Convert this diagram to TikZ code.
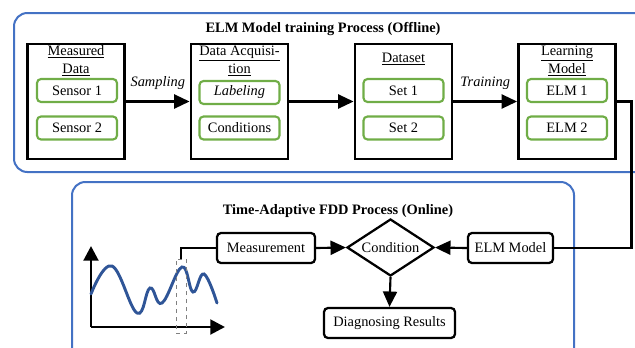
\documentclass[tikz,border=0pt]{standalone}
\usepackage{fontspec}
\setmainfont{Liberation Serif}
\usetikzlibrary{arrows.meta,shapes.geometric}

\definecolor{phaseblue}{HTML}{4472C4}
\definecolor{itemgreen}{HTML}{70AD47}
\definecolor{wavecol}{HTML}{2F5597}

\newcommand{\labelfont}{\fontsize{10.8}{12.5}\selectfont}

\tikzset{
  phase/.style={draw=phaseblue, line width=1.5pt, rounded corners=10pt},
  stagebox/.style={draw, line width=2.2pt, minimum width=72.75pt, minimum height=86.25pt, inner sep=0pt},
  itembox/.style={draw=itemgreen, line width=1.6pt, rounded corners=3pt, minimum width=60pt, minimum height=17.25pt, inner sep=0pt, font=\labelfont},
  stagetitle/.style={align=center, font=\labelfont, inner sep=0pt},
  procbox/.style={draw, line width=1.7pt, rounded corners=3pt, minimum height=22.5pt, inner sep=0pt, font=\labelfont},
  decision/.style={draw, diamond, aspect=1.5, line width=1.7pt, minimum width=65.25pt, minimum height=42.75pt, inner sep=0pt, font=\labelfont},
  flow/.style={line width=1.6pt, -{Triangle[length=11.5pt, width=10.5pt]}},
  link/.style={line width=1.6pt},
  edgelabel/.style={font=\labelfont\itshape, inner sep=0pt},
  heading/.style={font=\labelfont\bfseries, inner sep=0pt},
}

\begin{document}
\begin{tikzpicture}[x=0.75pt, y=-0.75pt]
\useasboundingbox (0,0) rectangle (635,347);
\clip (0,0) rectangle (635,347);

% phase frames
\draw[phase] (14,13) rectangle (670,172);
\draw[phase] (72,182) rectangle (574,370);

\node[heading] (offtitle) at (323,29) {ELM Model training Process (Offline)};
\node[heading] (ontitle) at (338,211) {Time-Adaptive FDD Process (Online)};

% offline stages
\node[stagebox] (meas) at (76,101.5) {};
\node[stagebox] (acq)  at (239.5,101.5) {};
\node[stagebox] (data) at (403.5,101.5) {};
\node[stagebox] (learn) at (567,101.5) {};

\node[stagetitle] (measT) at (76,61) {\underline{Measured}\\[1pt]\underline{Data}};
\node[stagetitle] (acqT) at (239.5,61) {\underline{Data Acquisi-}\\[1pt]\underline{tion}};
\node[stagetitle] (dataT) at (403.5,59) {\underline{Dataset}};
\node[stagetitle] (learnT) at (567,61) {\underline{Learning}\\[1pt]\underline{Model}};

\node[itembox] (s1) at (77,90.5) {Sensor 1};
\node[itembox] (s2) at (77,128) {Sensor 2};
\node[itembox] (lab) at (239.5,92.5) {\itshape Labeling};
\node[itembox] (cnd) at (239.5,128) {Conditions};
\node[itembox] (set1) at (403.5,90.5) {Set 1};
\node[itembox] (set2) at (403.5,128) {Set 2};
\node[itembox] (elm1) at (567,90.5) {ELM 1};
\node[itembox] (elm2) at (567,128) {ELM 2};

\draw[flow] (meas.east) -- node[edgelabel, above=8pt] (samp) {Sampling} (acq.west);
\draw[flow] (acq.east) -- (data.west);
\draw[flow] (data.east) -- node[edgelabel, above=8pt] (train) {Training} (learn.west);

% online process
\node[procbox, minimum width=73.5pt] (msr) at (266,248) {Measurement};
\node[decision] (cond) at (390.5,247.5) {Condition};
\node[procbox, minimum width=63.75pt] (elm) at (510.5,248) {ELM Model};
\node[procbox, minimum width=98.25pt] (diag) at (389.5,323) {Diagnosing Results};

\draw[flow] (msr.east) -- (cond.west);
\draw[flow] (elm.west) -- (cond.east);
\draw[flow] (cond.south) -- (diag.north);
\draw[link] (learn.east) -- ++(14.5,0) |- (elm.east);

% signal plot
\coordinate (O) at (91,327);
\coordinate (ytip) at (91,246);
\coordinate (xtip) at (225,327);
\draw[line width=2.2pt, -{Triangle[length=11pt, width=11pt]}] (O) -- (ytip);
\draw[line width=2.2pt, -{Triangle[length=11pt, width=11pt]}] (O) -- (xtip);
\draw[wavecol, line width=2.2pt, line cap=round]
  plot[smooth, tension=0.7] coordinates {(91,294) (112,266) (137,313) (150,288) (162,303) (182,267) (193,292) (204,274) (217,303)};
\node[draw=gray, dashed, line width=0.6pt, minimum width=7.5pt, minimum height=55.5pt, inner sep=0pt] (win) at (181,296) {};
\draw[link, line width=1.3pt] (win.north) |- (msr.west);
\end{tikzpicture}
\end{document}
